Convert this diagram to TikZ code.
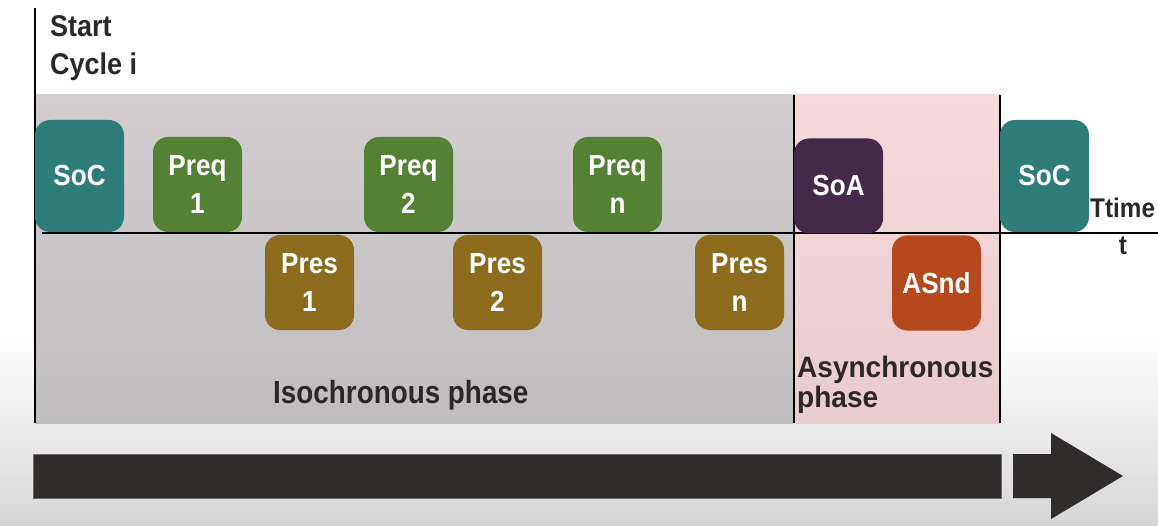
\documentclass[tikz,border=0pt]{standalone}
\usepackage{fontspec}
\setmainfont{Liberation Sans}[FakeStretch=0.9]
\newfontfamily\isofont{Liberation Sans}[FakeStretch=0.87]
\newfontfamily\asyfont{Liberation Sans}[FakeStretch=0.95]
\usetikzlibrary{positioning}
\definecolor{soccol}{RGB}{47,125,120}
\definecolor{preqcol}{RGB}{84,130,53}
\definecolor{prescol}{RGB}{140,107,28}
\definecolor{soacol}{RGB}{69,41,74}
\definecolor{asndcol}{RGB}{181,73,28}
\definecolor{isotop}{RGB}{210,206,207}
\definecolor{isobot}{RGB}{192,189,190}
\definecolor{pinktop}{RGB}{246,218,220}
\definecolor{pinkbot}{RGB}{234,203,207}
\definecolor{txtcol}{RGB}{43,40,40}
\definecolor{barcol}{RGB}{48,44,44}
\tikzset{
  frame/.style={draw=none, rounded corners=15pt, inner sep=0pt, text=white,
    font=\bfseries\fontsize{29}{38}\selectfont, align=center},
  tall/.style={frame, minimum width=89pt, minimum height=112pt},
  short/.style={frame, minimum width=89pt, minimum height=95pt},
  lbl/.style={text=txtcol, inner sep=0pt, font=\bfseries\fontsize{30}{38}\selectfont, align=left},
  blk/.style={line width=2.2pt, black}
}
\begin{document}
\begin{tikzpicture}[x=1pt,y=-1pt]
\useasboundingbox (0,0) rectangle (1158,526);
% background
\fill[white] (0,0) rectangle (1158,526);
\shade[top color=white, bottom color=black!16] (0,335) rectangle (1158,526);
% phases
\shade[top color=isotop, middle color=isotop, bottom color=isobot] (35,95) rectangle (794,423);
\shade[top color=pinktop, middle color=pinktop, bottom color=pinkbot] (794,95) rectangle (1000,423);
\coordinate (lt) at (35,8);
\coordinate (lb) at (35,423);
\coordinate (at) at (794,95);
\coordinate (ab) at (794,423);
\coordinate (bt) at (1000,95);
\coordinate (bb) at (1000,423);
\coordinate (tl) at (42,233);
\coordinate (tr) at (1158,233);
\draw[blk, line width=2.6pt] (lt) -- (lb);
\draw[blk, line width=2pt] (at) -- (ab);
\draw[blk, line width=2pt] (bt) -- (bb);
\draw[blk, line width=2.2pt] (tl) -- (tr);
% frames
\node[tall, fill=soccol] (soc1) at (79.5,176) {SoC};
\node[short, fill=preqcol] (preq1) at (197.5,184.5) {Preq\\1};
\node[short, fill=preqcol] (preq2) at (408.5,184.5) {Preq\\2};
\node[short, fill=preqcol] (preqn) at (617.5,184.5) {Preq\\n};
\node[short, fill=prescol] (pres1) at (309.5,282.5) {Pres\\1};
\node[short, fill=prescol] (pres2) at (497.5,282.5) {Pres\\2};
\node[short, fill=prescol] (presn) at (739.5,282.5) {Pres\\n};
\node[short, fill=soacol] (soa) at (838.5,186) {SoA};
\node[short, fill=asndcol] (asnd) at (936.5,283) {ASnd};
\node[tall, fill=soccol] (soc2) at (1044.5,176) {SoC};
% labels
\node[lbl, anchor=base west] (start) at (50,75) {Start\\Cycle i};
\node[lbl, anchor=base west, font=\bfseries\fontsize{27}{37}\selectfont] (ttime) at (1090,218) {Ttime};
\node[lbl, anchor=base, font=\bfseries\fontsize{27}{37}\selectfont] (tt) at (1123,255) {t};
\node[lbl, anchor=base west, font=\isofont\bfseries\fontsize{32}{38}\selectfont] (iso) at (273,403) {Isochronous phase};
\node[lbl, anchor=base west, font=\asyfont\bfseries\fontsize{29.5}{30}\selectfont, inner sep=0pt] (asyn) at (797,407) {Asynchronous\\phase};
% time arrow
\fill[barcol] (33,454) rectangle (1001,498);
\draw[barcol!70, line width=0.6pt] (33,454) rectangle (1001,498);
\fill[barcol] (1013,454) -- (1051,454) -- (1051,433) -- (1123,476) -- (1051,519) -- (1051,498) -- (1013,498) -- cycle;
\end{tikzpicture}
\end{document}
